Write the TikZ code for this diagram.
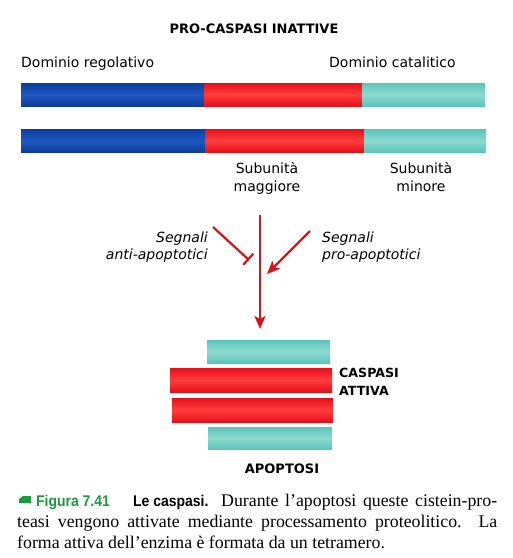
\documentclass[tikz,border=0pt]{standalone}
\usepackage{fontspec}
\setmainfont{DejaVu Sans}
\newfontfamily\capserif{Liberation Serif}
\newfontfamily\capsans[FakeStretch=0.9]{Liberation Sans}
\usetikzlibrary{arrows.meta}
\definecolor{bblue}{HTML}{0B3C9E}
\definecolor{bbluel}{HTML}{2058C0}
\definecolor{bred}{HTML}{E50F1B}
\definecolor{bredl}{HTML}{FF3E3E}
\definecolor{bcyan}{HTML}{5CC5BA}
\definecolor{bcyanl}{HTML}{8ED9D0}
\definecolor{arrred}{HTML}{D8131E}
\definecolor{capgreen}{HTML}{1E9A3C}
\tikzset{
  segbar/.style={draw=none, inner sep=0pt, outer sep=0pt, anchor=north west, minimum height=23pt},
  blueseg/.style={segbar, top color=bblue, bottom color=bblue, middle color=bbluel},
  redseg/.style={segbar, top color=bred, bottom color=bred, middle color=bredl},
  cyanseg/.style={segbar, top color=bcyan, bottom color=bcyan, middle color=bcyanl},
  lbl/.style={inner sep=0pt, font=\fontsize{14}{17}\selectfont},
  ilbl/.style={inner sep=0pt, font=\itshape\fontsize{14}{17}\selectfont},
  blbl/.style={inner sep=0pt, font=\bfseries\fontsize{12.6}{15}\selectfont},
  captxt/.style={inner sep=0pt, anchor=base west, font=\capserif\fontsize{17.8}{20}\selectfont},
  capbold/.style={inner sep=0pt, anchor=base west, font=\capsans\bfseries\fontsize{15.5}{18}\selectfont},
  sig/.style={draw=arrred, line width=2.2pt},
}
\begin{document}
\begin{tikzpicture}[x=1pt,y=-1pt]
\useasboundingbox (0,0) rectangle (513,558);
\fill[white] (0,0) rectangle (513,558);

% title and domain labels
\node[inner sep=0pt, font=\bfseries\fontsize{13}{15}\selectfont] (title) at (254,29) {PRO-CASPASI INATTIVE};
\node[lbl, anchor=base west] (dreg) at (21,67) {Dominio regolativo};
\node[lbl, anchor=base west] (dcat) at (329,67) {Dominio catalitico};

% pro-caspase bars
\node[blueseg, minimum width=183pt] (b1) at (21,83) {};
\node[redseg, minimum width=158pt] (r1) at (204,83) {};
\node[cyanseg, minimum width=123pt] (c1) at (362,83) {};
\node[blueseg, minimum width=184pt] (b2) at (21,129) {};
\node[redseg, minimum width=159pt] (r2) at (205,129) {};
\node[cyanseg, minimum width=122pt] (c2) at (364,129) {};

% subunit labels
\node[lbl, anchor=base] (sub1a) at (267,173) {Subunità};
\node[lbl, anchor=base] (sub1b) at (267,191) {maggiore};
\node[lbl, anchor=base] (sub2a) at (421,173) {Subunità};
\node[lbl, anchor=base] (sub2b) at (421,191) {minore};

% signals
\node[ilbl, anchor=base east] (antia) at (208,242) {Segnali};
\node[ilbl, anchor=base east] (antib) at (208,259) {anti-apoptotici};
\node[ilbl, anchor=base west] (proa) at (322,242) {Segnali};
\node[ilbl, anchor=base west] (prob) at (322,259) {pro-apoptotici};

% active caspase tetramer
\node[cyanseg, minimum width=123pt] (ca) at (207,340) {};
\node[redseg, minimum width=162pt, minimum height=24pt] (ra) at (170,368) {};
\node[redseg, minimum width=161pt, minimum height=24pt] (rb) at (172,398) {};
\node[cyanseg, minimum width=124pt, minimum height=22pt] (cb) at (208,427) {};
\node[blbl, anchor=base west] (casp1) at (339,377) {CASPASI};
\node[blbl, anchor=base west] (casp2) at (339,395) {ATTIVA};
\node[inner sep=0pt, anchor=base, font=\bfseries\fontsize{13}{15}\selectfont] (apop) at (282,473) {APOPTOSI};

% arrows
\coordinate (vtop) at (260,215);
\coordinate (antiS) at (213,227);
\coordinate (antiE) at (249,260);
\coordinate (proS) at (310,231);
\coordinate (proE) at (267,274);
\draw[sig, -{Stealth[length=13pt,width=11pt,inset=3pt]}, shorten >=11pt] (vtop) -- (vtop |- ca.north);
\draw[sig, -{Bar[width=15pt,line width=2.2pt]}] (antiS) -- (antiE);
\draw[sig, -{Stealth[length=13pt,width=11pt,inset=3pt]}] (proS) -- (proE);

% caption
\fill[capgreen] (19,503) -- (19,499) -- (23,496) -- (31,496) -- (31,503) -- cycle;
\node[capbold, text=capgreen] (fig) at (36,506) {Figura 7.41};
\node[capbold] (titcap) at (133,506) {Le caspasi.};
\node[captxt] (cap1) at (221,506) {\makebox[276pt][s]{Durante l’apoptosi queste cistein-pro-}};
\node[captxt] (cap2) at (17,527) {\makebox[480pt][s]{teasi vengono attivate mediante processamento proteolitico. La}};
\node[captxt] (cap3) at (17,548) {forma attiva dell’enzima è formata da un tetramero.};
\end{tikzpicture}
\end{document}
